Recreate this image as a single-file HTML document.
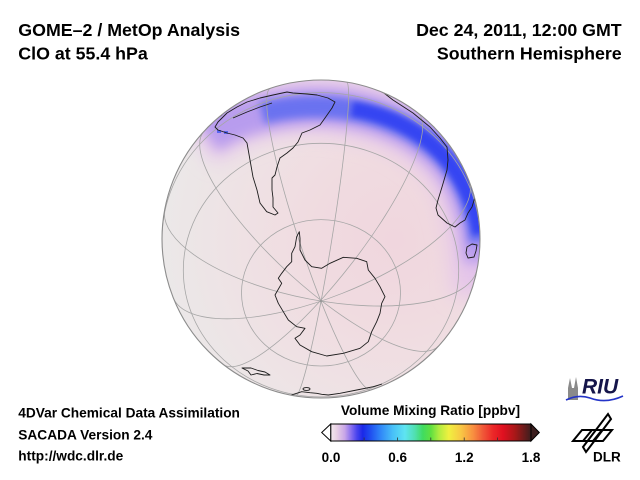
<!DOCTYPE html>
<html><head><meta charset="utf-8">
<style>
html,body{margin:0;padding:0;background:#fff;}
svg{display:block;}
text{font-family:"Liberation Sans",Arial,sans-serif;font-weight:bold;fill:#000;}
</style></head><body>
<svg width="640" height="480" viewBox="0 0 640 480" xmlns="http://www.w3.org/2000/svg">
<defs>
<clipPath id="g"><circle cx="321" cy="239" r="159"/></clipPath>
<radialGradient id="base" cx="395" cy="240" r="232" gradientUnits="userSpaceOnUse">
 <stop offset="0" stop-color="#f0d6de"/>
 <stop offset="0.35" stop-color="#f0dbe0"/>
 <stop offset="0.65" stop-color="#efe1e4"/>
 <stop offset="1" stop-color="#ebe8e8"/>
</radialGradient>
<filter id="b14" filterUnits="userSpaceOnUse" x="0" y="0" width="640" height="480"><feGaussianBlur stdDeviation="10"/></filter>
<filter id="b7" filterUnits="userSpaceOnUse" x="0" y="0" width="640" height="480"><feGaussianBlur stdDeviation="6"/></filter>
<filter id="b4" filterUnits="userSpaceOnUse" x="0" y="0" width="640" height="480"><feGaussianBlur stdDeviation="4"/></filter>
<filter id="b3" filterUnits="userSpaceOnUse" x="0" y="0" width="640" height="480"><feGaussianBlur stdDeviation="3"/></filter>
<linearGradient id="cb" x1="330.7" y1="0" x2="531" y2="0" gradientUnits="userSpaceOnUse">
 <stop offset="0" stop-color="#f4eaee"/>
 <stop offset="0.03" stop-color="#e8d0e4"/>
 <stop offset="0.07" stop-color="#c8a6e8"/>
 <stop offset="0.10" stop-color="#8c72ee"/>
 <stop offset="0.13" stop-color="#4a44ee"/>
 <stop offset="0.16" stop-color="#1a28e8"/>
 <stop offset="0.20" stop-color="#2050f0"/>
 <stop offset="0.25" stop-color="#3088f8"/>
 <stop offset="0.31" stop-color="#48c0f8"/>
 <stop offset="0.37" stop-color="#5ee4f2"/>
 <stop offset="0.42" stop-color="#50e0b0"/>
 <stop offset="0.46" stop-color="#40dc60"/>
 <stop offset="0.50" stop-color="#60e040"/>
 <stop offset="0.54" stop-color="#b0ec40"/>
 <stop offset="0.59" stop-color="#f0f040"/>
 <stop offset="0.65" stop-color="#f8c844"/>
 <stop offset="0.71" stop-color="#f89040"/>
 <stop offset="0.76" stop-color="#f05838"/>
 <stop offset="0.81" stop-color="#ec2828"/>
 <stop offset="0.86" stop-color="#e01020"/>
 <stop offset="0.92" stop-color="#a81818"/>
 <stop offset="1" stop-color="#3c1e1e"/>
</linearGradient>
</defs>

<!-- Titles -->
<text x="18.3" y="36" font-size="17.8">GOME–2 / MetOp Analysis</text>
<text x="18.3" y="59.3" font-size="17.8">ClO at 55.4 hPa</text>
<text x="621.7" y="36" font-size="17.8" text-anchor="end">Dec 24, 2011, 12:00 GMT</text>
<text x="621.7" y="59.3" font-size="17.8" text-anchor="end">Southern Hemisphere</text>

<!-- Globe -->
<g clip-path="url(#g)">
 <circle cx="321" cy="239" r="159" fill="url(#base)"/>
 <path d="M 198 142 C 218 124 245 112 275 107 C 300 103 320 104 340 107 C 385 113 418 129 442 153 C 464 176 478 212 482 295" fill="none" stroke="#e4c4ea" stroke-width="56" filter="url(#b14)"/>
 <path d="M 208 136 C 228 122 252 114 280 110 C 305 106 320 106 340 108 C 385 114 418 130 442 154 C 466 178 478 212 482 262" fill="none" stroke="#b89cee" stroke-width="36" filter="url(#b7)"/>
 <path d="M 262 113 C 285 107 315 105 340 108 C 385 114 418 130 442 154 C 464 177 476 207 480 242" fill="none" stroke="#6a72f0" stroke-width="22" filter="url(#b4)"/>
 <path d="M 352 109 C 390 115 420 131 443 155 C 463 177 475 205 480 234" fill="none" stroke="#3444f2" stroke-width="15" filter="url(#b3)"/>
 <rect x="217" y="130" width="4" height="3" fill="#5a66f0"/>
 <rect x="224" y="131" width="4" height="3" fill="#5a66f0"/>

 <!-- graticule -->
 <g fill="none" stroke="#a6a6a6" stroke-width="0.8">
  <ellipse cx="321" cy="292.8" rx="79.5" ry="73.2"/>
  <ellipse cx="321" cy="270.1" rx="137.7" ry="126.8"/>
  <path d="M 162 239 A 159 146.4 0 0 1 480 239"/>
  <path d="M 295.5 396.0 A 159 10.78 99.2 0 0 346.5 82.05"/>
  <path d="M 223.8 364.8 A 159 39.93 127.7 0 0 418.2 113.2"/>
  <path d="M 173.1 297.5 A 159 58.37 158.4 0 0 468.9 180.5"/>
  <path d="M 164.8 209.1 A 159 61.18 -169.2 0 0 477.2 268.9"/>
  <path d="M 203.5 131.9 A 159 47.59 -137.6 0 0 438.5 346.1"/>
  <path d="M 270.5 88.2 A 159 21.25 -108.5 0 0 371.5 389.8"/>
 </g>
 <circle cx="321" cy="301" r="1.3" fill="#999"/>

 <!-- coastlines -->
 <g fill="none" stroke="#1c1c1c" stroke-width="0.9" stroke-linejoin="round">
  <polygon points="299.3,231.7 296.7,236.7 295,246.7 291.7,253.3 291.7,261.7 286.7,266.7 281.7,273.3 278.3,278.3 281.7,283.3 275,295 278.3,303.3 283.3,311.7 288.3,320 296.7,326.7 305,328.3 300,335 295,338.3 300,345 311.7,351.7 326.7,356 343.3,353.3 360,348.3 368.3,341.7 371.7,331.7 376.7,321.7 380,313.3 381.7,303.3 385,296.7 380,286.7 375,278.3 368.3,270 366.7,261.7 356.7,258.3 343.3,257.3 330,263.3 321.7,268.3 311.7,266.7 305,260 300,250 300,238.3"/>
  <polygon points="275,215 266.7,211.7 260,203 257,190 253,177 250,160 247,143 243,138 235,135 227,133 218,130 215,127 218,122 222,118 227,113 237,107 247,102 260,98 273,95 287,92 293,93 307,94 317,95 328,98 335,102 332,108 325,118 320,125 310,130 302,133 298,142 293,148 287,153 280,158 277,167 275,175 272,178 272,190 273,198 273,207 278,213"/>
  <polyline points="233,118 247,112 260,107 272,103"/>
  <polyline points="207,128 213,121 222,115"/>
  <polyline points="380,90 393,100 413,113 430,127 440,138 447,147 448,160 447,170 442,187 438,200 436,208 438,215 447,223 455,227 460,223 465,220 468,213 472,207 475,197 477,190 478,182"/>
  <polygon points="467,247 472,244 477,245 476,251 474,257 468,258 466,253"/>
  <polygon points="242,368 248,371 251,375 257,373.5 264,375 270,375 265,372 258,370.5 251,368"/>
  <polyline points="288,396 296.7,393.3 301.7,391.7 310,392.7 316.7,393.3 321.7,394.3 328.3,395 340,393.3 356.7,390 373.3,386.7 382,384"/>
  <ellipse cx="306.5" cy="389" rx="3.5" ry="1.4"/>
 </g>
</g>
<circle cx="321" cy="239" r="159" fill="none" stroke="#8c8c8c" stroke-width="1.1"/>

<!-- Bottom-left text -->
<text x="18.3" y="417.7" font-size="13.7">4DVar Chemical Data Assimilation</text>
<text x="18.3" y="439.4" font-size="13.7">SACADA Version 2.4</text>
<text x="18.3" y="460.5" font-size="13.7">http://wdc.dlr.de</text>

<!-- Colorbar -->
<text x="430.5" y="415" font-size="13.7" text-anchor="middle">Volume Mixing Ratio [ppbv]</text>
<rect x="330.7" y="424" width="200.3" height="17" fill="url(#cb)" stroke="#000" stroke-width="1"/>
<polygon points="330.7,424 321.7,432.5 330.7,441" fill="#fff" stroke="#000" stroke-width="1"/>
<polygon points="531,424 539.3,432.5 531,441" fill="#3c1e1e" stroke="#000" stroke-width="1"/>
<g stroke="#333" stroke-width="0.8">
 <line x1="364.1" y1="437.5" x2="364.1" y2="441"/>
 <line x1="397.4" y1="437.5" x2="397.4" y2="441"/>
 <line x1="430.8" y1="437.5" x2="430.8" y2="441"/>
 <line x1="464.2" y1="437.5" x2="464.2" y2="441"/>
 <line x1="497.6" y1="437.5" x2="497.6" y2="441"/>
</g>
<text x="331" y="462" font-size="13.5" text-anchor="middle">0.0</text>
<text x="397.7" y="462" font-size="13.5" text-anchor="middle">0.6</text>
<text x="464.3" y="462" font-size="13.5" text-anchor="middle">1.2</text>
<text x="531" y="462" font-size="13.5" text-anchor="middle">1.8</text>

<!-- RIU logo -->
<polygon points="568,400 568,388 570,378 572,388 574,388 576,377 578,388 578,400" fill="#8a8a8a"/>
<text x="582" y="393.3" font-size="21" font-style="italic" style="fill:#15154a">RIU</text>
<path d="M 566 400 Q 578 394 590 398 Q 606 404 623 396" fill="none" stroke="#2434c8" stroke-width="1.6"/>

<!-- DLR logo -->
<g fill="none" stroke="#000" stroke-width="2" stroke-linejoin="miter">
 <polygon points="582,430 612,430 603,441 573,441"/>
 <line x1="592" y1="430" x2="583" y2="441"/>
 <line x1="602" y1="430" x2="593" y2="441"/>
 <polygon points="608,414 611,419 586,452 583,447"/>
</g>
<text x="593" y="461.7" font-size="13.5">DLR</text>
</svg>
</body></html>
